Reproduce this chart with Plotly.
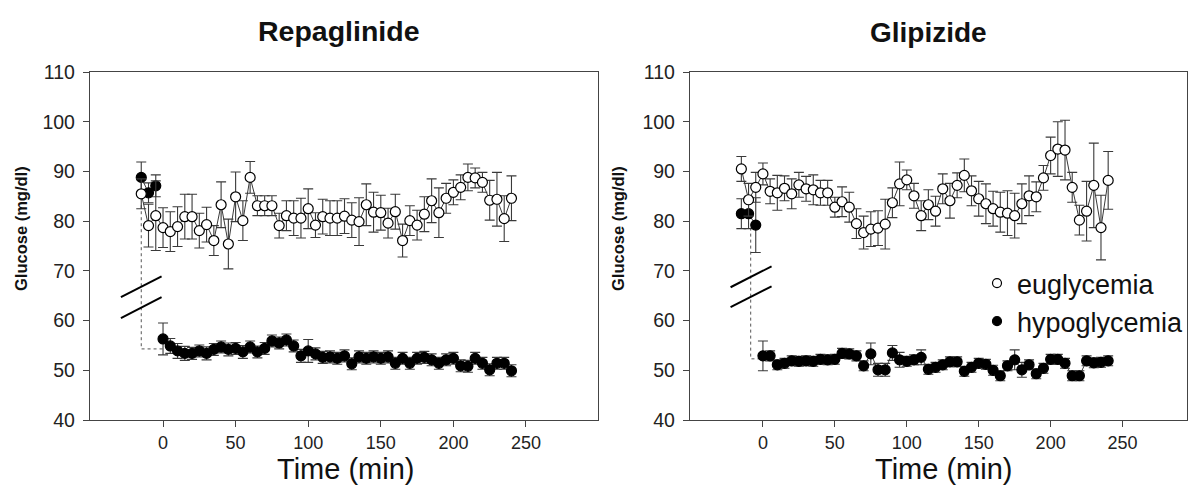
import plotly.graph_objects as go

# ---------------- data ----------------
time_base = [-15, -10, -5]
time_main = list(range(0, 245, 5))

# Repaglinide – euglycemia (baseline + clamp)
rep_eu_base = [85.5, 79.1, 81.1]
rep_eu_base_err = [3.0, 4.3, 7.0]
rep_eu = [78.7, 77.9, 78.9, 80.9, 80.9, 78.1, 79.3, 76.1, 83.3, 75.4, 84.9, 80.1, 88.8,
          83.1, 83.1, 83.1, 79.1, 81.1, 80.6, 80.6, 82.5, 79.2, 80.9, 80.6, 80.6, 81.0,
          80.2, 79.9, 83.3, 81.8, 81.7, 79.6, 81.9, 76.1, 80.1, 79.2, 81.4, 84.1, 81.7,
          84.6, 85.8, 86.8, 88.8, 88.7, 87.8, 84.2, 84.4, 80.5, 84.6]
rep_eu_err = [4.0, 4.0, 4.0, 4.5, 4.5, 3.5, 3.5, 3.0, 4.6, 5.0, 5.0, 4.0, 3.2,
              2.0, 2.0, 2.0, 2.5, 3.0, 3.5, 4.0, 4.0, 2.5, 3.5, 3.5, 3.5, 3.5,
              3.5, 4.8, 4.2, 4.0, 3.5, 3.0, 3.5, 3.3, 3.0, 3.0, 3.5, 4.4, 5.0,
              3.0, 2.5, 2.5, 2.7, 2.0, 2.0, 4.0, 5.4, 4.6, 4.5]

# Repaglinide – hypoglycemia
rep_hy_base = [88.8, 85.7, 87.1]
rep_hy_base_err = [3.1, 2.0, 2.2]
rep_hy = [56.3, 54.9, 53.9, 53.4, 53.4, 53.9, 53.4, 54.2, 54.7, 54.2, 54.4, 53.7, 54.7,
          53.7, 54.4, 55.9, 55.5, 56.1, 54.9, 52.9, 53.9, 53.3, 52.6, 52.7, 52.4, 52.9,
          51.3, 52.7, 52.4, 52.7, 52.4, 52.7, 51.4, 52.4, 51.4, 52.4, 52.6, 52.1, 51.4,
          52.1, 52.4, 50.9, 50.8, 52.4, 51.4, 50.1, 51.4, 51.4, 49.9]
rep_hy_err = [3.2, 1.5, 1.5, 1.4, 1.2, 1.2, 1.3, 1.2, 1.2, 1.3, 1.2, 1.3, 1.2,
              1.2, 1.2, 1.2, 1.2, 1.2, 1.2, 1.3, 2.3, 1.2, 1.2, 1.2, 1.2, 1.2,
              1.2, 1.2, 1.2, 1.2, 1.2, 1.2, 1.2, 1.2, 1.2, 1.2, 1.2, 1.2, 1.2,
              1.2, 1.2, 1.2, 1.2, 1.2, 1.2, 1.2, 1.2, 1.2, 1.2]

# Glipizide – euglycemia
gli_eu_base = [90.5, 84.3, 86.8]
gli_eu_base_err = [2.5, 3.3, 3.0]
gli_eu = [89.5, 86.0, 85.7, 86.6, 85.5, 87.3, 86.5, 86.3, 85.7, 85.7, 82.8, 83.9, 82.8,
          79.5, 77.7, 78.4, 78.6, 79.4, 83.7, 87.5, 88.3, 85.1, 81.1, 83.3, 82.0, 86.5,
          84.1, 87.2, 89.2, 86.1, 84.5, 83.5, 82.5, 81.8, 81.6, 81.1, 83.5, 85.1, 84.9,
          88.7, 93.2, 94.5, 94.3, 86.8, 80.2, 82.0, 87.2, 78.7, 88.2]
gli_eu_err = [2.2, 2.5, 3.5, 2.5, 3.0, 2.5, 2.5, 3.0, 2.5, 2.5, 2.0, 3.0, 3.0,
              3.0, 3.3, 3.5, 3.5, 5.0, 3.0, 4.4, 2.0, 2.5, 3.0, 3.0, 3.0, 3.0,
              3.5, 2.5, 3.3, 3.0, 3.5, 4.0, 3.5, 4.0, 4.5, 4.5, 4.0, 4.0, 3.0,
              2.5, 3.7, 5.5, 6.0, 3.0, 3.0, 6.0, 8.5, 6.5, 5.8]

# Glipizide – hypoglycemia
gli_hy_base = [81.5, 81.5, 79.2]
gli_hy_base_err = [3.0, 3.0, 5.5]
gli_hy = [52.9, 52.9, 51.1, 51.4, 51.9, 51.8, 51.9, 51.8, 52.2, 52.1, 52.2, 53.4, 53.3,
          52.9, 50.9, 53.3, 50.1, 50.1, 53.5, 52.1, 51.8, 52.1, 52.6, 50.2, 50.6, 51.1,
          51.7, 51.7, 49.8, 50.6, 51.4, 51.2, 50.0, 48.9, 50.9, 52.1, 50.1, 51.1, 49.3,
          50.4, 52.2, 52.2, 51.4, 48.9, 48.9, 51.9, 51.5, 51.6, 51.9]
gli_hy_err = [3.0, 1.0, 1.0, 1.0, 1.0, 1.0, 1.0, 1.0, 1.0, 1.0, 1.0, 1.0, 1.0,
              1.0, 1.0, 2.2, 1.3, 1.3, 1.5, 1.5, 1.0, 1.0, 1.5, 1.0, 1.0, 1.0,
              1.0, 1.0, 1.0, 1.0, 1.0, 1.0, 1.0, 1.0, 1.0, 2.0, 1.5, 1.0, 1.0,
              1.0, 1.0, 1.0, 1.0, 1.0, 1.0, 1.0, 1.0, 1.0, 1.0]

# dotted connectors from baseline to clamp level
rep_link_x = [-15, -15, 0]
rep_link_y = [83.2, 54.3, 54.3]
gli_link_x = [-8.5, -8.5, 0]
gli_link_y = [78.7, 52.3, 52.3]

# axis-break marks (x from, x to ; y from, y to)
rep_break_x = [-29, -1]
rep_break_upper = [64.7, 68.9]
rep_break_lower = [60.5, 64.7]
gli_break_x = [-22.5, 6]
gli_break_upper = [66.7, 70.9]
gli_break_lower = [62.7, 66.9]

titles = ["Repaglinide", "Glipizide"]
x_ticks = [0, 50, 100, 150, 200, 250]
y_ticks = [40, 50, 60, 70, 80, 90, 100, 110]
legend_names = ["euglycemia", "hypoglycemia"]

# ---------------- figure ----------------
FONT = "Liberation Sans, Arial, sans-serif"
W, H = 1189, 485
LINE_C = "#3a3a3a"
ERR_C = "#3a3a3a"

fig = go.Figure()


def series(xa, ya, t, y, err, filled, connect=True):
    fig.add_trace(go.Scatter(
        x=t, y=y, xaxis=xa, yaxis=ya,
        mode="lines+markers" if connect else "markers",
        line=dict(color=LINE_C, width=1),
        marker=dict(size=10, symbol="circle",
                    color="black" if filled else "white",
                    line=dict(color="black", width=1.2)),
        error_y=dict(type="data", array=err, visible=True,
                     color=ERR_C, thickness=1.1, width=5),
        showlegend=False, hoverinfo="x+y"))


for xa, ya, lx, ly in [("x", "y", rep_link_x, rep_link_y),
                       ("x2", "y2", gli_link_x, gli_link_y)]:
    fig.add_trace(go.Scatter(x=lx, y=ly, xaxis=xa, yaxis=ya, mode="lines",
                             line=dict(color="#555", width=1, dash="dot"),
                             showlegend=False, hoverinfo="skip"))

# Repaglinide
series("x", "y", time_base, rep_hy_base, rep_hy_base_err, True)
series("x", "y", time_main, rep_hy, rep_hy_err, True)
series("x", "y", time_base + time_main, rep_eu_base + rep_eu,
       rep_eu_base_err + rep_eu_err, False)
# Glipizide
series("x2", "y2", time_base, gli_hy_base, gli_hy_base_err, True)
series("x2", "y2", time_main, gli_hy, gli_hy_err, True)
series("x2", "y2", time_base + time_main, gli_eu_base + gli_eu,
       gli_eu_base_err + gli_eu_err, False)

# legend entries
fig.add_trace(go.Scatter(x=[None], y=[None], xaxis="x2", yaxis="y2", mode="markers",
                         name=legend_names[0], legendgroup="a",
                         marker=dict(size=9, color="white", line=dict(color="black", width=1.2))))
fig.add_trace(go.Scatter(x=[None], y=[None], xaxis="x2", yaxis="y2", mode="markers",
                         name=legend_names[1], legendgroup="b",
                         marker=dict(size=9, color="black", line=dict(color="black", width=1.2))))

# axis-break shapes
for xr, yr, bx, bu, bl in [("x", "y", rep_break_x, rep_break_upper, rep_break_lower),
                           ("x2", "y2", gli_break_x, gli_break_upper, gli_break_lower)]:
    for by in (bu, bl):
        fig.add_shape(type="line", xref=xr, yref=yr, x0=bx[0], x1=bx[1], y0=by[0], y1=by[1],
                      line=dict(color="black", width=2))

top_px, bot_px = 72, 420
ydom = [1 - bot_px / H, 1 - top_px / H]
xdom1 = [90 / W, 598 / W]
xdom2 = [690 / W, 1187 / W]

xcommon = dict(tickvals=x_ticks, ticks="outside", ticklen=6, tickwidth=1.2, tickcolor="#444",
               showline=True, linecolor="#444", linewidth=1.3, mirror=True,
               showgrid=False, zeroline=False, automargin=False,
               tickfont=dict(family=FONT, size=18, color="#222"))
ycommon = dict(tickvals=y_ticks, range=[40, 110], domain=ydom, ticks="outside", ticklen=6,
               tickwidth=1.2, tickcolor="#444", ticklabelstandoff=4,
               showline=True, linecolor="#444", linewidth=1.3, mirror=True,
               showgrid=False, zeroline=False, automargin=False,
               tickfont=dict(family=FONT, size=19.5, color="#222"))

fig.update_layout(
    width=W, height=H, autosize=False,
    margin=dict(l=0, r=0, t=0, b=0, pad=0, autoexpand=False),
    paper_bgcolor="white", plot_bgcolor="white",
    font=dict(family=FONT, color="#111"),
    xaxis=dict(domain=xdom1, range=[-50.3, 299.6], anchor="y", **xcommon),
    yaxis=dict(anchor="x", **ycommon),
    xaxis2=dict(domain=xdom2, range=[-50.7, 294.8], anchor="y2", **xcommon),
    yaxis2=dict(anchor="x2", **ycommon),
    showlegend=True,
    legend=dict(x=977 / W, y=1 - 259 / H, xanchor="left", yanchor="top",
                font=dict(family=FONT, size=27, color="#111"),
                bgcolor="rgba(0,0,0,0)", tracegroupgap=0, traceorder="grouped",
                itemsizing="trace"),
)

ann = []
ann.append(dict(text="<b>%s</b>" % titles[0], x=339 / W, y=1 - 31 / H, xref="paper", yref="paper",
                showarrow=False, font=dict(family=FONT, size=28.5, color="#111"),
                xanchor="center", yanchor="middle"))
ann.append(dict(text="<b>%s</b>" % titles[1], x=928 / W, y=1 - 33 / H, xref="paper", yref="paper",
                showarrow=False, font=dict(family=FONT, size=28, color="#111"),
                xanchor="center", yanchor="middle"))
for cx in (345, 943):
    ann.append(dict(text="Time (min)", x=cx / W, y=1 - 469 / H, xref="paper", yref="paper",
                    showarrow=False, font=dict(family=FONT, size=29, color="#111"),
                    xanchor="center", yanchor="middle"))
for cx in (21, 618):
    ann.append(dict(text="<b>Glucose (mg/dl)</b>", x=cx / W, y=1 - 229 / H, xref="paper",
                    yref="paper", showarrow=False, textangle=-90,
                    font=dict(family=FONT, size=16.5, color="#111"),
                    xanchor="center", yanchor="middle"))
fig.update_layout(annotations=ann)

post = (
    "document.documentElement.style.cssText='margin:0;padding:0;overflow:hidden;height:485px;';"
    "document.body.style.cssText='margin:0;padding:0;overflow:hidden;height:485px;';"
    "var gds=document.getElementsByClassName('plotly-graph-div');"
    "for(var i=0;i<gds.length;i++){gds[i].style.position='absolute';"
    "gds[i].style.top='0px';gds[i].style.left='0px';}"
)
fig.write_html("out.html", config={"responsive": False, "displayModeBar": False},
               post_script=post)
